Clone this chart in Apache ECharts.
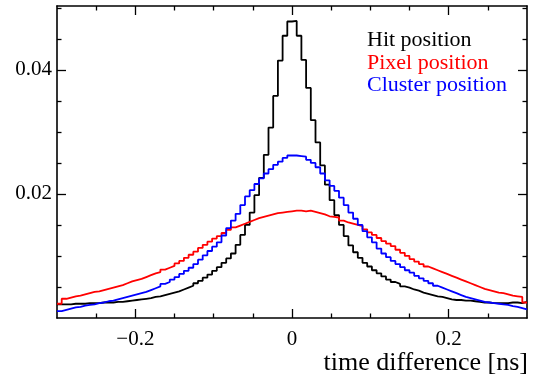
<!DOCTYPE html>
<html>
<head>
<meta charset="utf-8">
<script src="https://cdn.jsdelivr.net/npm/echarts@6/dist/echarts.min.js"></script>
<style>html,body{margin:0;padding:0;background:#fff}#c{width:541px;height:380px}</style>
</head>
<body>
<div id="c"></div>
<script>
// Binning: 100 bins from -0.3 to 0.3
var xMin = -0.3, xMax = 0.3, nBins = 100;
var yMin = 0, yMax = 0.0503;

var hitPosition = [
0.0022,0.0022,0.0022,0.0023,0.0023,0.0023,0.0024,0.0024,0.0024,0.0025,
0.0025,0.0025,0.0026,0.0026,0.0027,0.0028,0.0029,0.0030,0.0031,0.0032,
0.0034,0.0035,0.0037,0.0039,0.0041,0.0043,0.0046,0.0049,0.0052,0.0056,
0.0060,0.0065,0.0070,0.0076,0.0082,0.0089,0.0096,0.0104,0.0118,0.0134,
0.0150,0.0170,0.0198,0.0226,0.0263,0.0307,0.0358,0.0415,0.0455,0.0478,
0.0479,0.0455,0.0416,0.0371,0.0319,0.0283,0.0246,0.0215,0.0190,0.0166,
0.0150,0.0132,0.0117,0.0106,0.0097,0.0089,0.0083,0.0077,0.0072,0.0067,
0.0062,0.0058,0.0055,0.0051,0.0049,0.0046,0.0044,0.0041,0.0039,0.0037,
0.0035,0.0034,0.0032,0.0030,0.0029,0.0029,0.0028,0.0028,0.0027,0.0026,
0.0025,0.0025,0.0024,0.0024,0.0024,0.0024,0.0025,0.0025,0.0024,0.0026
];
var pixelPosition = [
0.0023,0.0031,0.0033,0.0035,0.0036,0.0038,0.0040,0.0042,0.0043,0.0045,
0.0047,0.0049,0.0051,0.0053,0.0056,0.0059,0.0061,0.0063,0.0066,0.0069,
0.0072,0.0074,0.0078,0.0081,0.0084,0.0088,0.0092,0.0097,0.0102,0.0107,
0.0113,0.0118,0.0123,0.0128,0.0132,0.0137,0.0142,0.0146,0.0149,0.0152,
0.0155,0.0158,0.0161,0.0163,0.0165,0.0167,0.0169,0.0170,0.0171,0.0172,
0.0173,0.0173,0.0172,0.0173,0.0171,0.0169,0.0167,0.0164,0.0163,0.0162,
0.0157,0.0154,0.0152,0.0150,0.0148,0.0143,0.0138,0.0134,0.0129,0.0124,
0.0120,0.0116,0.0110,0.0105,0.0100,0.0095,0.0091,0.0087,0.0083,0.0080,
0.0077,0.0074,0.0071,0.0068,0.0065,0.0062,0.0059,0.0056,0.0053,0.0050,
0.0047,0.0045,0.0043,0.0041,0.0040,0.0038,0.0036,0.0035,0.0034,0.0025
];
var clusterPosition = [
0.0011,0.0013,0.0015,0.0017,0.0018,0.0020,0.0021,0.0022,0.0024,0.0025,
0.0027,0.0028,0.0030,0.0032,0.0034,0.0036,0.0038,0.0040,0.0042,0.0045,
0.0048,0.0051,0.0055,0.0058,0.0062,0.0066,0.0071,0.0076,0.0081,0.0087,
0.0094,0.0101,0.0108,0.0115,0.0122,0.0133,0.0145,0.0157,0.0168,0.0182,
0.0196,0.0206,0.0216,0.0225,0.0233,0.0240,0.0247,0.0252,0.0258,0.0262,
0.0262,0.0261,0.0260,0.0255,0.0250,0.0243,0.0233,0.0222,0.0213,0.0205,
0.0194,0.0182,0.0170,0.0160,0.0150,0.0140,0.0130,0.0122,0.0112,0.0104,
0.0098,0.0092,0.0087,0.0082,0.0077,0.0073,0.0068,0.0064,0.0060,0.0056,
0.0052,0.0049,0.0046,0.0043,0.0040,0.0037,0.0034,0.0032,0.0030,0.0028,
0.0026,0.0025,0.0024,0.0023,0.0022,0.0021,0.0019,0.0018,0.0016,0.0014
];

var seriesNames = ['Hit position', 'Pixel position', 'Cluster position'];
var seriesColors = ['#000000', '#ff0000', '#0000ff'];

var xMajorTicks = [-0.2, 0, 0.2];
var xMinorTicks = [-0.25, -0.15, -0.1, -0.05, 0.05, 0.1, 0.15, 0.25];
var yMajorTicks = [0.02, 0.04];
var yMinorTicks = [0.005, 0.01, 0.015, 0.025, 0.03, 0.035, 0.045, 0.05];
var xLabels = [-0.2, 0, 0.2];
var yLabels = [0.02, 0.04];
var xTitle = 'time difference [ns]';

function histPoints(vals) {
  var w = (xMax - xMin) / nBins;
  var pts = [];
  for (var i = 0; i < vals.length; i++) pts.push([xMin + i * w, vals[i]]);
  pts.push([xMax, vals[vals.length - 1]]);
  return pts;
}

var FONT = 'Liberation Serif';
var frame = { show: true, onZero: false, lineStyle: { color: '#000', width: 1.6 } };
var noLine = { show: false, onZero: false };

function xAxisDef(pos, ticks, len, withLabels, withLine) {
  return {
    type: 'value', min: xMin, max: xMax, position: pos,
    axisLine: withLine ? frame : noLine,
    splitLine: { show: false },
    axisTick: { show: true, inside: true, length: len, customValues: ticks, lineStyle: { color: '#000', width: 1.3 } },
    axisLabel: withLabels ? {
      show: true, customValues: xLabels, margin: 11, color: '#000',
      fontFamily: FONT, fontSize: 21,
      formatter: function (v) { return String(+v.toFixed(2)).replace('-', '\u2212'); }
    } : { show: false }
  };
}
function yAxisDef(pos, ticks, len, withLabels, withLine) {
  return {
    type: 'value', min: yMin, max: yMax, position: pos,
    axisLine: withLine ? frame : noLine,
    splitLine: { show: false },
    axisTick: { show: true, inside: true, length: len, customValues: ticks, lineStyle: { color: '#000', width: 1.3 } },
    axisLabel: withLabels ? {
      show: true, customValues: yLabels, margin: 5, color: '#000',
      fontFamily: FONT, fontSize: 21,
      formatter: function (v) { return String(+v.toFixed(3)); }
    } : { show: false }
  };
}

var chart = echarts.init(document.getElementById('c'), null, { renderer: 'canvas' });
chart.setOption({
  animation: false,
  backgroundColor: '#fff',
  grid: { left: 57, right: 14, top: 6, bottom: 62, containLabel: false, outerBoundsMode: 'none' },
  xAxis: [
    xAxisDef('bottom', xMajorTicks, 9, true, true),
    xAxisDef('bottom', xMinorTicks, 4.5, false, false),
    xAxisDef('top', xMajorTicks, 9, false, true),
    xAxisDef('top', xMinorTicks, 4.5, false, false)
  ],
  yAxis: [
    yAxisDef('left', yMajorTicks, 9, true, true),
    yAxisDef('left', yMinorTicks, 4.5, false, false),
    yAxisDef('right', yMajorTicks, 9, false, true),
    yAxisDef('right', yMinorTicks, 4.5, false, false)
  ],
  graphic: [{
    type: 'text', right: 13, top: 350,
    style: { text: xTitle, fontFamily: FONT, fontSize: 26, fill: '#000' }
  }],
  legend: {
    show: true, orient: 'vertical', left: 362, top: 29, padding: 0,
    itemWidth: 0, itemHeight: 0, itemGap: 0, icon: 'none',
    data: seriesNames.map(function (n, i) {
      return { name: n, textStyle: { color: seriesColors[i] } };
    }),
    textStyle: { fontFamily: FONT, fontSize: 22, lineHeight: 22.5 },
    selectedMode: false
  },
  series: [hitPosition, pixelPosition, clusterPosition].map(function (vals, i) {
    return {
      name: seriesNames[i], type: 'line', step: 'end',
      xAxisIndex: 0, yAxisIndex: 0,
      data: histPoints(vals), showSymbol: false, symbol: 'none',
      color: seriesColors[i],
      lineStyle: { color: seriesColors[i], width: 1.8 },
      clip: true
    };
  })
});
</script>
</body>
</html>
